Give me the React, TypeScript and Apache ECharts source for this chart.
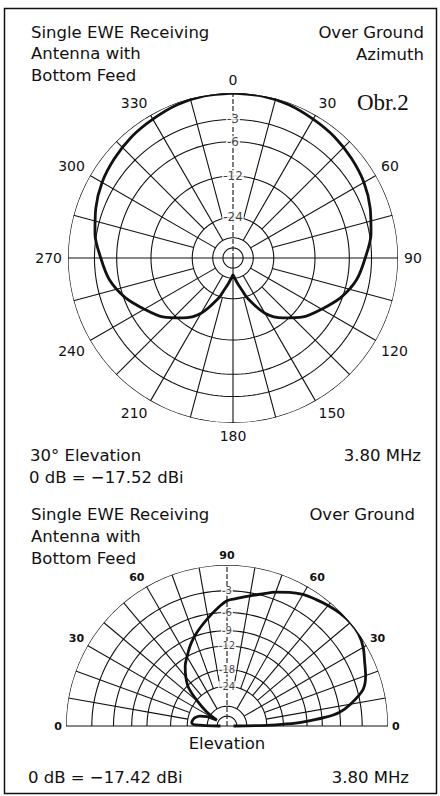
import React, { useEffect, useRef } from "react";
import * as echarts from "echarts";

// Azimuth pattern at 30° elevation, dB relative to 0 dB = -17.52 dBi
const azAngles = [0, 10, 20, 30, 40, 50, 60, 70, 80, 90, 100, 110, 120, 130, 140, 150, 160, 165, 170, 175, 180,
  185, 190, 195, 200, 210, 220, 230, 240, 250, 260, 270, 280, 290, 300, 310, 320, 330, 340, 350, 360];
const azDb = [0, -0.05, -0.2, -0.5, -0.75, -1.1, -1.5, -2.1, -2.8, -3.8, -4.7, -6.2, -8.2, -10.1, -12.8, -16.3, -23, -28, -32, -36, -39,
  -36, -32, -28, -23, -16.3, -12.8, -10.1, -8.2, -6.2, -4.7, -3.8, -2.8, -2.1, -1.5, -1.1, -0.75, -0.5, -0.2, -0.05, 0];

// Elevation pattern (0 = forward/right, 180 = back/left), dB relative to 0 dB = -17.42 dBi
const elAngles = [0, 1, 2, 3, 5, 7, 10, 15, 20, 25, 30, 35, 40, 45, 50, 55, 60, 65, 70, 75, 80, 85, 90,
  95, 100, 105, 110, 115, 120, 125, 130, 135, 140, 145, 150, 155, 160, 165, 170, 175, 178, 180];
const elDb = [-55, -24, -17, -13, -8.5, -6, -4.3, -2.3, -1.5, -1.0, -0.4, -0.05, 0, -0.15, -0.4, -0.7, -1.0, -1.5, -2.1, -2.8, -3.4, -3.9, -4.3,
  -5.4, -6.6, -7.8, -9.0, -10.4, -12, -13.6, -15.8, -18.6, -24.5, -32, -45, -34, -29.5, -27.3, -26.3, -26, -28, -55];

const azRings = [0, -3, -6, -12, -24, -36, -48];
const azRingLabels = ["-3", "-6", "-12", "-24"];
const elRings = [0, -3, -6, -9, -12, -18, -24, -36, -48];
const elRingLabels = ["-3", "-6", "-9", "-12", "-18", "-24"];
const azSpokes = [0, 15, 30, 45, 60, 75, 90, 105, 120, 135, 150, 165, 180, 195, 210, 225, 240, 255, 270, 285, 300, 315, 330, 345];
const elSpokes = [0, 10, 20, 30, 40, 50, 60, 70, 80, 90, 100, 110, 120, 130, 140, 150, 160, 170, 180];

const FONT = "'DejaVu Sans', sans-serif";
const INK = "#111";

// ARRL log-periodic radial scale: 0.89 of radius per 2 dB
const toR = (db: number) => Math.pow(0.89, -db / 2);

function ringSeries(polarIndex: number, db: number, from: number, to: number, width: number) {
  const pts: number[][] = [];
  for (let a = from; a <= to; a += 2) pts.push([toR(db), a]);
  return {
    type: "line", coordinateSystem: "polar", polarIndex, data: pts, symbol: "none", silent: true,
    lineStyle: { color: INK, width }, z: 1,
  };
}

function spokeSeries(polarIndex: number, a: number, vertical: number) {
  const r0 = a % 90 === 0 ? 0 : a % 30 === 0 ? toR(-36) : toR(-24);
  const dashed = a === vertical;
  return {
    type: "line", coordinateSystem: "polar", polarIndex, data: [[r0, a], [1, a]], symbol: "none", silent: true,
    lineStyle: { color: INK, width: 1.1, type: dashed ? [5, 2] : "solid" }, z: 1,
  };
}

function labelSeries(polarIndex: number, labels: string[], angle: number, fontSize: number) {
  return {
    type: "scatter", coordinateSystem: "polar", polarIndex, symbolSize: 1, silent: true,
    itemStyle: { color: "rgba(0,0,0,0)" },
    data: labels.map((t) => ({ value: [toR(Number(t)), angle], name: t })),
    label: {
      show: true, position: "inside", formatter: "{b}",
      color: INK, fontSize, fontFamily: FONT, backgroundColor: "#fff", padding: [0, 1],
    },
    labelLayout: { hideOverlap: false },
    z: 5,
  };
}

function text(x: number, y: number, t: string, size: number, align = "left", family = FONT, weight = "normal") {
  return {
    type: "text", x, y, silent: true,
    style: { text: t, fill: INK, font: `${weight} ${size}px ${family}`, textAlign: align, textVerticalAlign: "middle" },
  };
}

export default function App() {
  const ref = useRef<HTMLDivElement>(null);
  useEffect(() => {
    if (!ref.current) return;
    const chart = echarts.init(ref.current, undefined, { renderer: "svg" });
    const series: any[] = [];
    azRings.forEach((d) => series.push(ringSeries(0, d, 0, 360, d === 0 ? 1.3 : 1.1)));
    azSpokes.forEach((a) => series.push(spokeSeries(0, a, 0)));
    elRings.forEach((d) => series.push(ringSeries(1, d, 0, 180, d === 0 ? 1.3 : 1.1)));
    elSpokes.forEach((a) => series.push(spokeSeries(1, a, 90)));
    series.push({
      type: "line", coordinateSystem: "polar", polarIndex: 0, symbol: "none", smooth: 0.3, silent: true,
      data: azAngles.map((a, i) => [toR(azDb[i]), a]), lineStyle: { color: INK, width: 2.8 }, z: 3,
    });
    series.push({
      type: "line", coordinateSystem: "polar", polarIndex: 1, symbol: "none", smooth: 0.3, silent: true,
      data: elAngles.map((a, i) => [toR(elDb[i]), a]), lineStyle: { color: INK, width: 2.8 }, z: 3,
    });
    series.push(labelSeries(0, azRingLabels, 0, 12));
    series.push(labelSeries(1, elRingLabels, 90, 10));

    const hidden = { axisLine: { show: false }, axisTick: { show: false }, splitLine: { show: false }, splitArea: { show: false } };
    chart.setOption({
      animation: false,
      backgroundColor: "#fff",
      polar: [
        { center: [233, 258], radius: 165 },
        { center: [227, 726], radius: 161 },
      ],
      angleAxis: [
        {
          polarIndex: 0, type: "value", min: 0, max: 360, interval: 30, startAngle: 90, clockwise: true, ...hidden,
          axisLabel: { show: true, margin: 6, color: INK, fontSize: 14, fontFamily: FONT, formatter: (v: number) => (v >= 360 ? "" : String(v)) },
        },
        {
          polarIndex: 1, type: "value", min: 0, max: 360, interval: 30, startAngle: 0, clockwise: false, ...hidden,
          axisLabel: {
            show: true, margin: 4, color: INK, fontSize: 11, fontWeight: "bold", fontFamily: FONT,
            formatter: (v: number) => (v <= 90 ? String(v) : v <= 180 ? String(180 - v) : ""),
          },
        },
      ],
      radiusAxis: [
        { polarIndex: 0, type: "value", min: 0, max: 1, ...hidden, axisLabel: { show: false } },
        { polarIndex: 1, type: "value", min: 0, max: 1, ...hidden, axisLabel: { show: false } },
      ],
      graphic: [
        { type: "rect", silent: true, shape: { x: 4.5, y: 8.5, width: 432, height: 785 }, style: { fill: "none", stroke: INK, lineWidth: 1.5 } },
        text(31, 32, "Single EWE Receiving", 16.5),
        text(31, 53, "Antenna with", 16.5),
        text(31, 75, "Bottom Feed", 16.5),
        text(424, 32, "Over Ground", 16.5, "right"),
        text(424, 54, "Azimuth", 16.5, "right"),
        text(357, 102, "Obr.2", 23, "left", "'Liberation Serif', serif"),
        text(30, 455, "30° Elevation", 16.5),
        text(421, 455, "3.80 MHz", 16.5, "right"),
        text(29, 477, "0 dB = −17.52 dBi", 16.5),
        text(31, 514, "Single EWE Receiving", 16.5),
        text(31, 536, "Antenna with", 16.5),
        text(31, 558, "Bottom Feed", 16.5),
        text(415, 514, "Over Ground", 16.5, "right"),
        text(227, 743, "Elevation", 16.5, "center"),
        text(28, 777, "0 dB = −17.42 dBi", 16.5),
        text(409, 777, "3.80 MHz", 16.5, "right"),
      ],
      series,
    });
    return () => chart.dispose();
  }, []);
  return <div ref={ref} style={{ position: "absolute", left: 0, top: 0, width: 440, height: 796 }} />;
}
